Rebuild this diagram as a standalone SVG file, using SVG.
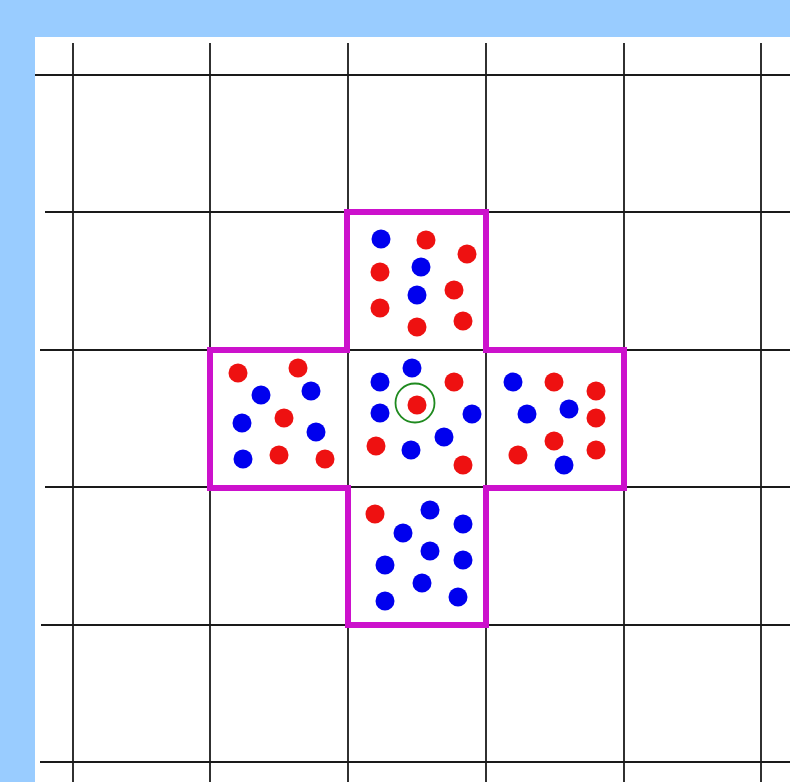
<svg xmlns="http://www.w3.org/2000/svg" width="790" height="782" viewBox="0 0 790 782">
<style>
.g{stroke:#1a1a1a;stroke-width:1.8;fill:none}
.b{fill:#0000ee}
.r{fill:#ee1111}
.cross{fill:none;stroke:#cc11cc;stroke-width:6;stroke-linejoin:miter}
</style>
<rect x="0" y="0" width="790" height="782" fill="#99ccff"/>
<rect x="35" y="37" width="755" height="745" fill="#ffffff"/>
<g id="grid" class="g">
<line x1="73" y1="43" x2="73" y2="782"/>
<line x1="210" y1="43" x2="210" y2="782"/>
<line x1="348" y1="43" x2="348" y2="782"/>
<line x1="486" y1="43" x2="486" y2="782"/>
<line x1="624" y1="43" x2="624" y2="782"/>
<line x1="761" y1="43" x2="761" y2="782"/>
<line x1="35" y1="75" x2="790" y2="75"/>
<line x1="45" y1="212" x2="790" y2="212"/>
<line x1="40" y1="350" x2="790" y2="350"/>
<line x1="45" y1="487" x2="790" y2="487"/>
<line x1="41" y1="625" x2="790" y2="625"/>
<line x1="40" y1="762" x2="790" y2="762"/>
</g>
<g id="cross">
<path class="cross" d="M347,212 H486 V350 H624 V488 H486 V625 H348 V488 H210 V350 H347 Z"/>
</g>
<g id="cell-top">
<circle class="b" cx="381" cy="239" r="9.5"/>
<circle class="r" cx="426" cy="240" r="9.5"/>
<circle class="r" cx="467" cy="254" r="9.5"/>
<circle class="r" cx="380" cy="272" r="9.5"/>
<circle class="b" cx="421" cy="267" r="9.5"/>
<circle class="r" cx="454" cy="290" r="9.5"/>
<circle class="b" cx="417" cy="295" r="9.5"/>
<circle class="r" cx="380" cy="308" r="9.5"/>
<circle class="r" cx="417" cy="327" r="9.5"/>
<circle class="r" cx="463" cy="321" r="9.5"/>
</g>
<g id="cell-left">
<circle class="r" cx="238" cy="373" r="9.5"/>
<circle class="r" cx="298" cy="368" r="9.5"/>
<circle class="b" cx="261" cy="395" r="9.5"/>
<circle class="b" cx="311" cy="391" r="9.5"/>
<circle class="b" cx="242" cy="423" r="9.5"/>
<circle class="r" cx="284" cy="418" r="9.5"/>
<circle class="b" cx="316" cy="432" r="9.5"/>
<circle class="b" cx="243" cy="459" r="9.5"/>
<circle class="r" cx="279" cy="455" r="9.5"/>
<circle class="r" cx="325" cy="459" r="9.5"/>
</g>
<g id="cell-center">
<circle class="b" cx="412" cy="368" r="9.5"/>
<circle class="b" cx="380" cy="382" r="9.5"/>
<circle class="r" cx="454" cy="382" r="9.5"/>
<circle class="r" cx="417" cy="405" r="9.5"/>
<circle cx="415" cy="403" r="19.5" fill="none" stroke="#1f8a1f" stroke-width="1.8"/>
<circle class="b" cx="380" cy="413" r="9.5"/>
<circle class="b" cx="472" cy="414" r="9.5"/>
<circle class="b" cx="444" cy="437" r="9.5"/>
<circle class="r" cx="376" cy="446" r="9.5"/>
<circle class="b" cx="411" cy="450" r="9.5"/>
<circle class="r" cx="463" cy="465" r="9.5"/>
</g>
<g id="cell-right">
<circle class="b" cx="513" cy="382" r="9.5"/>
<circle class="r" cx="554" cy="382" r="9.5"/>
<circle class="r" cx="596" cy="391" r="9.5"/>
<circle class="b" cx="527" cy="414" r="9.5"/>
<circle class="b" cx="569" cy="409" r="9.5"/>
<circle class="r" cx="596" cy="418" r="9.5"/>
<circle class="r" cx="554" cy="441" r="9.5"/>
<circle class="r" cx="518" cy="455" r="9.5"/>
<circle class="r" cx="596" cy="450" r="9.5"/>
<circle class="b" cx="564" cy="465" r="9.5"/>
</g>
<g id="cell-bottom">
<circle class="r" cx="375" cy="514" r="9.5"/>
<circle class="b" cx="430" cy="510" r="9.5"/>
<circle class="b" cx="463" cy="524" r="9.5"/>
<circle class="b" cx="403" cy="533" r="9.5"/>
<circle class="b" cx="430" cy="551" r="9.5"/>
<circle class="b" cx="385" cy="565" r="9.5"/>
<circle class="b" cx="463" cy="560" r="9.5"/>
<circle class="b" cx="422" cy="583" r="9.5"/>
<circle class="b" cx="385" cy="601" r="9.5"/>
<circle class="b" cx="458" cy="597" r="9.5"/>
</g>
</svg>
